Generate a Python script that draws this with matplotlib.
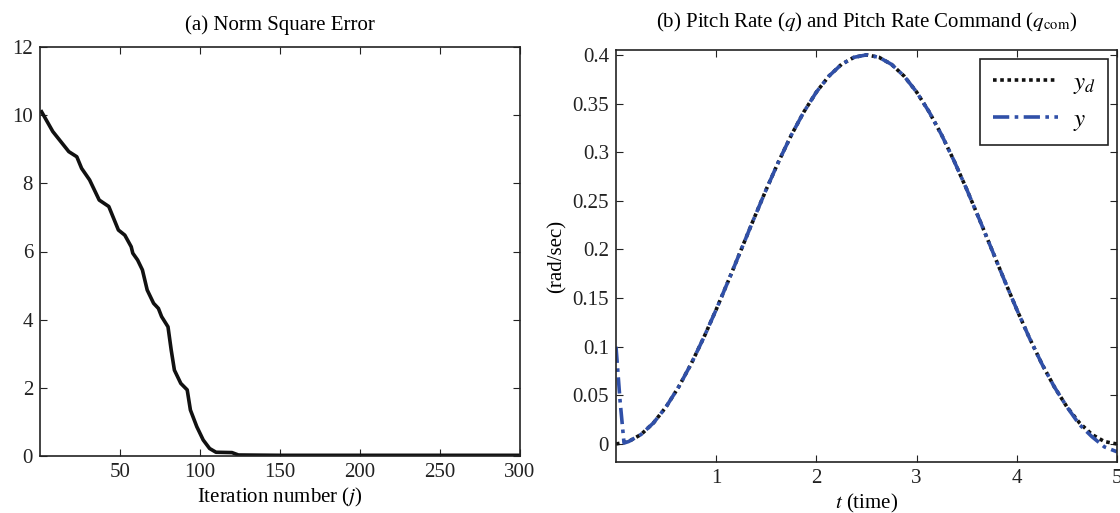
import matplotlib
matplotlib.use("Agg")
import matplotlib.pyplot as plt

plt.rcParams['font.family'] = ['Liberation Serif', 'DejaVu Serif']
plt.rcParams['mathtext.fontset'] = 'stix'

# (a) norm square error
iters = [1, 8, 18, 23, 26, 31, 37, 43, 49, 53, 57, 58, 61, 64, 67, 71, 74, 76, 80,
         82, 84, 88, 92, 94, 98, 102, 106, 110, 120, 124, 150, 200, 250, 300]
err = [10.1, 9.52, 8.93, 8.78, 8.44, 8.1, 7.51, 7.32, 6.63, 6.48, 6.14, 5.95, 5.75,
       5.46, 4.87, 4.48, 4.33, 4.09, 3.79, 3.11, 2.52, 2.13, 1.94, 1.35, 0.86, 0.47,
       0.22, 0.11, 0.10, 0.03, 0.02, 0.02, 0.02, 0.02]

# (b) pitch rate command y_d and pitch rate y
t_d = [0, 0.125, 0.25, 0.375, 0.5, 0.625, 0.75, 0.875, 1.0, 1.125, 1.25, 1.375, 1.5,
       1.625, 1.75, 1.875, 2.0, 2.125, 2.25, 2.375, 2.5, 2.625, 2.75, 2.875, 3.0,
       3.125, 3.25, 3.375, 3.5, 3.625, 3.75, 3.875, 4.0, 4.125, 4.25, 4.375, 4.5,
       4.625, 4.75, 4.875, 5.0]
y_d = [0.0, 0.0025, 0.0098, 0.0218, 0.0382, 0.0586, 0.0824, 0.1092, 0.1382, 0.1687,
       0.2, 0.2313, 0.2618, 0.2908, 0.3176, 0.3414, 0.3618, 0.3782, 0.3902, 0.3975,
       0.4, 0.3975, 0.3902, 0.3782, 0.3618, 0.3414, 0.3176, 0.2908, 0.2618, 0.2313,
       0.2, 0.1687, 0.1382, 0.1092, 0.0824, 0.0586, 0.0382, 0.0218, 0.0098, 0.0025,
       0.0]
t_y = [0, 0.04, 0.08, 0.125, 0.25, 0.375, 0.5, 0.625, 0.75, 0.875, 1.0, 1.125, 1.25,
       1.375, 1.5, 1.625, 1.75, 1.875, 2.0, 2.125, 2.25, 2.375, 2.5, 2.625, 2.75,
       2.875, 3.0, 3.125, 3.25, 3.375, 3.5, 3.625, 3.75, 3.875, 4.0, 4.125, 4.25,
       4.375, 4.5, 4.625, 4.75, 4.875, 5.0]
y = [0.1, 0.045, 0.001, 0.0025, 0.0098, 0.0218, 0.0382, 0.0586, 0.0824, 0.1092,
     0.1382, 0.1687, 0.2, 0.2313, 0.2618, 0.2908, 0.3176, 0.3414, 0.3618, 0.3782,
     0.3902, 0.3975, 0.4, 0.3975, 0.3902, 0.3782, 0.3618, 0.3414, 0.3176, 0.2908,
     0.2618, 0.2313, 0.2, 0.1687, 0.1382, 0.1092, 0.0824, 0.0586, 0.0382, 0.0200,
     0.0075, -0.003, -0.008]

fig = plt.figure(figsize=(11.2, 5.13), dpi=100)
ax1 = fig.add_axes([40/1120, 57/513, 480/1120, 409/513])
ax2 = fig.add_axes([616/1120, 51/513, 501/1120, 412/513])

fs = 15
for ax in (ax1, ax2):
    ax.tick_params(direction='in', top=True, right=True, labelsize=fs, length=5,
                   width=0.8, colors='#222222', pad=5)
    for s in ax.spines.values():
        s.set_linewidth(1.2)
        s.set_color('#222222')

ax1.plot(iters, err, color='#111111', lw=2.6)
ax1.set_xlim(0, 300)
ax1.set_ylim(0, 12)
ax1.set_xticks([50, 100, 150, 200, 250, 300])
ax1.set_yticks(range(0, 13, 2))
ax1.set_xlabel('Iteration number ($j$)', fontsize=fs, labelpad=3)
ax1.set_title('(a) Norm Square Error', fontsize=fs, pad=12)

ax2.plot(t_d, y_d, color='#111111', lw=2.6, ls=(0, (1, 1)), label='$y_d$')
ax2.plot(t_y, y, color='#3050a8', lw=2.6, ls=(0, (4.5, 1.5, 1, 1.5)), label='$y$')
ax2.set_xlim(0, 5)
ax2.set_ylim(-0.0185, 0.405)
ax2.set_xticks([1, 2, 3, 4, 5])
ax2.set_yticks([0, 0.05, 0.1, 0.15, 0.2, 0.25, 0.3, 0.35, 0.4])
ax2.set_yticklabels(['0', '0.05', '0.1', '0.15', '0.2', '0.25', '0.3', '0.35', '0.4'])
ax2.set_xlabel('$t$ (time)', fontsize=fs, labelpad=3)
ax2.set_ylabel('(rad/sec)', fontsize=fs, labelpad=4)
ax2.set_title('(b) Pitch Rate ($q$) and Pitch Rate Command ($q_{\\rm com}$)',
              fontsize=fs, pad=16)
leg = ax2.legend(loc='upper right', fontsize=fs + 3, fancybox=False, framealpha=1,
                 edgecolor='#222222', handlelength=2.6, borderpad=0.5,
                 labelspacing=0.5, borderaxespad=0.35, handletextpad=0.6)
leg.get_frame().set_linewidth(1.2)

fig.savefig('out.png', dpi=100)
